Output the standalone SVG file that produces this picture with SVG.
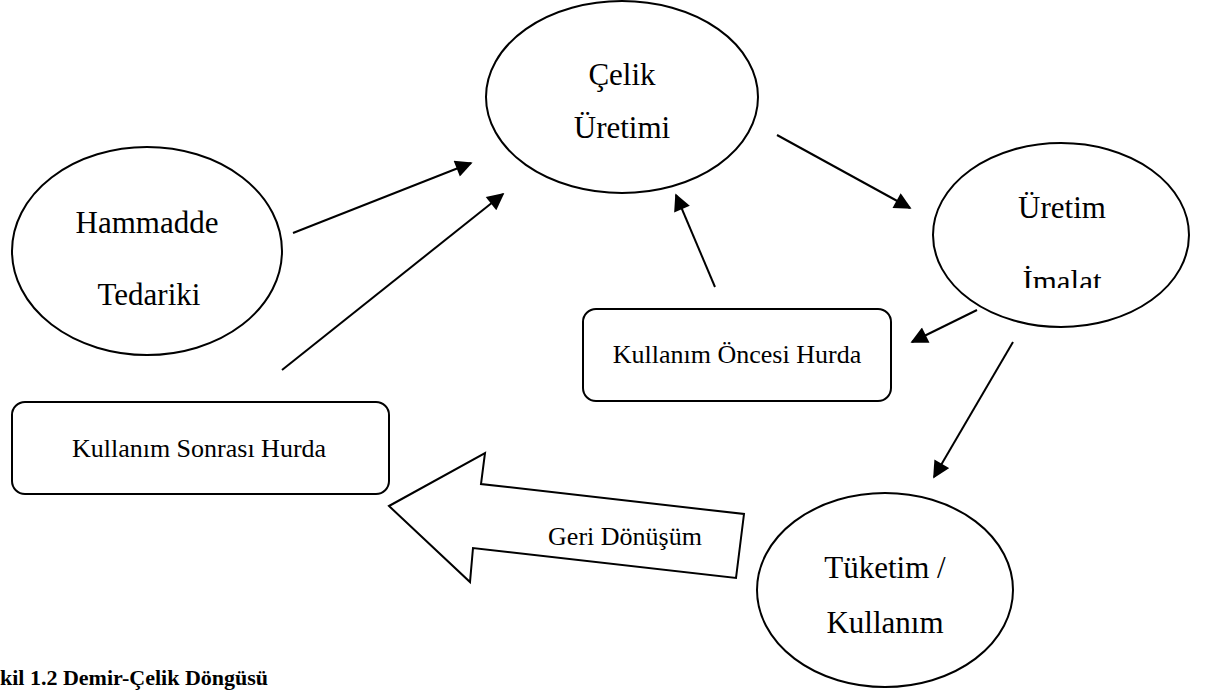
<svg xmlns="http://www.w3.org/2000/svg" width="1213" height="690" viewBox="0 0 1213 690">
<style>
.shape{fill:#fff;stroke:#000;stroke-width:2}
.big{font-family:"Liberation Serif","Times New Roman",serif;font-size:31px;fill:#000;text-anchor:middle}
.small{font-family:"Liberation Serif","Times New Roman",serif;font-size:26px;fill:#000;text-anchor:middle}
.cap{font-family:"Liberation Serif","Times New Roman",serif;font-size:22px;font-weight:bold;fill:#000}
.conn{stroke:#000;stroke-width:2;fill:none;marker-end:url(#ah)}
</style>
<defs>
<marker id="ah" viewBox="0 0 10 10" refX="9" refY="5" markerWidth="10" markerHeight="8.5" markerUnits="strokeWidth" orient="auto">
<path d="M0,0 L10,5 L0,10 Z" fill="#000"/>
</marker>
<clipPath id="clipImalat"><rect x="980" y="240" width="170" height="48"/></clipPath>
</defs>
<rect width="1213" height="690" fill="#fff"/>
<g id="connectors">
<line class="conn" x1="293" y1="233" x2="471" y2="163"/>
<line class="conn" x1="282" y1="370" x2="503" y2="194"/>
<line class="conn" x1="777" y1="135" x2="910" y2="208"/>
<line class="conn" x1="715" y1="287" x2="676" y2="195"/>
<line class="conn" x1="977" y1="310" x2="912" y2="342"/>
<line class="conn" x1="1013" y1="342" x2="934" y2="477"/>
</g>
<g id="celik-uretimi">
<ellipse class="shape" cx="622" cy="97" rx="136" ry="96"/>
<text class="big" x="622" y="85">Çelik</text>
<text class="big" x="622" y="138">Üretimi</text>
</g>
<g id="hammadde">
<ellipse class="shape" cx="147" cy="251" rx="135" ry="104"/>
<text class="big" x="147" y="233">Hammadde</text>
<text class="big" x="149" y="305">Tedariki</text>
</g>
<g id="uretim-imalat">
<ellipse class="shape" cx="1061" cy="235" rx="128" ry="92"/>
<text class="big" x="1062" y="218">Üretim</text>
<text class="big" x="1062" y="292" clip-path="url(#clipImalat)">İmalat</text>
</g>
<g id="tuketim">
<ellipse class="shape" cx="885" cy="590" rx="128" ry="97"/>
<text class="big" x="885" y="578">Tüketim /</text>
<text class="big" x="885" y="633">Kullanım</text>
</g>
<g id="kullanim-oncesi">
<rect class="shape" x="583" y="309" width="308" height="92" rx="13"/>
<text class="small" x="737" y="363">Kullanım Öncesi Hurda</text>
</g>
<g id="kullanim-sonrasi">
<rect class="shape" x="12" y="402" width="377" height="92" rx="13"/>
<text class="small" x="199" y="457">Kullanım Sonrası Hurda</text>
</g>
<g id="geri-donusum">
<polygon class="shape" points="389,506 485,453 481,484 744,514 736,578 473,548 470,582"/>
<text class="small" x="625" y="545">Geri Dönüşüm</text>
</g>
<text class="cap" x="0" y="685">kil 1.2 Demir-Çelik Döngüsü</text>
</svg>
